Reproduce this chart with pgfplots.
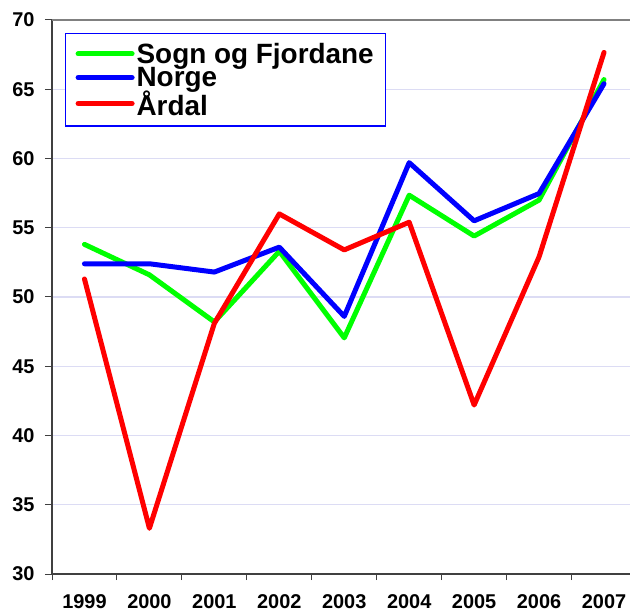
\documentclass[border=0pt]{standalone}
\usepackage{pgfplots}
\pgfplotsset{compat=1.18}
\usepackage{fontspec}
\setmainfont{Liberation Sans}
\definecolor{gridc}{HTML}{DCDCF4}
\definecolor{axc}{HTML}{404040}
\definecolor{topc}{HTML}{808080}
\begin{document}
\begin{tikzpicture}
\begin{axis}[
 at={(0,0)}, anchor=south west,
 scale only axis, width=578bp, height=554bp,
 xmin=-0.5, xmax=8.4, ymin=30, ymax=70,
 axis x line*=bottom, axis y line*=left,
 axis line style={axc, line width=1.2bp, -},
 xtick={0,...,8}, xticklabels={1999,2000,2001,2002,2003,2004,2005,2006,2007},
 major x tick style={draw=none},
 minor xtick={-0.5,0.5,...,7.5},
 minor x tick style={axc, line width=1bp},
 minor tick length=6bp,
 ytick={30,35,...,70},
 major y tick style={axc, line width=1bp},
 major tick length=7bp,
 tick align=outside,
 ymajorgrids, grid style={gridc, line width=1.2bp},
 /pgf/number format/assume math mode=true,
 ticklabel style={font=\bfseries\fontsize{20}{24}\selectfont},
 yticklabel style={xshift=-7bp},
 xticklabel style={yshift=-10.5bp},
 legend style={at={(axis description cs:0.0225,0.9765)}, anchor=north west,
   draw=blue, line width=1.2bp, inner xsep=10bp, inner ysep=7.5bp,
   font=\bfseries\fontsize{28}{26}\selectfont, row sep=-1.5bp,
   cells={anchor=west}},
 legend cell align=left,
 legend image code/.code={\path (0bp,0bp) -- (54bp,0bp); \draw[line width=5bp, line cap=round] (4bp,0bp) -- (51bp,0bp);},
 every axis plot/.append style={line width=5bp, line cap=round, line join=round},
]
\addplot[color={rgb,255:red,0;green,255;blue,0}] coordinates {(0,53.8) (1,51.6) (2,48.2) (3,53.3) (4,47.05) (5,57.35) (6,54.4) (7,57.0) (8,65.7)};
\addlegendentry{Sogn og Fjordane}
\addplot[color=blue] coordinates {(0,52.4) (1,52.4) (2,51.8) (3,53.6) (4,48.6) (5,59.7) (6,55.5) (7,57.47) (8,65.4)};
\addlegendentry{Norge}
\addplot[color=red] coordinates {(0,51.3) (1,33.3) (2,48.1) (3,56.0) (4,53.4) (5,55.4) (6,42.2) (7,52.9) (8,67.66)};
\addlegendentry{Årdal}
\draw[topc, line width=1.3bp] (axis cs:-0.5,70) -- (axis cs:8.4,70);
\end{axis}
\pgfresetboundingbox
\path[use as bounding box] (-52bp,-38bp) rectangle (578bp,574bp);
\end{tikzpicture}
\end{document}
